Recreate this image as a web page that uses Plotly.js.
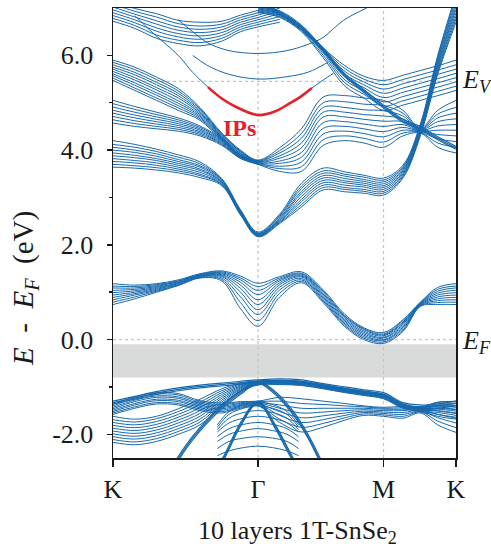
<!DOCTYPE html>
<html><head><meta charset="utf-8">
<script src="https://cdn.plot.ly/plotly-3.0.1.min.js"></script>
<style>body{margin:0;background:#fff}#plot{width:491px;height:551px}</style>
</head><body><div id="plot"></div>
<script>
// k-path positions (K, Γ, M, K) and common sampling grid
const kTicks = [0, 1, 1.866, 2.366];
const kLabels = ['K', 'Γ', 'M', 'K'];
const kFull = [0,0.15,0.3,0.45,0.6,0.75,0.88,1.0,1.15,1.3,1.45,1.6,1.73,1.866,2.0,2.12,2.24,2.366];

// lowest conduction bands (0 - 1.5 eV)
const cb1 = [
[0.74,0.86,1.00,1.14,1.30,1.24,0.65,0.28,0.90,1.20,0.78,0.27,0.00,-0.08,0.17,0.70,0.74,0.74],
[0.79,0.90,1.02,1.15,1.31,1.27,0.78,0.40,0.98,1.23,0.81,0.30,0.03,-0.05,0.20,0.71,0.78,0.79],
[0.84,0.94,1.04,1.16,1.32,1.30,0.90,0.53,1.05,1.26,0.84,0.33,0.06,-0.02,0.23,0.72,0.82,0.84],
[0.89,0.97,1.06,1.18,1.33,1.33,1.00,0.63,1.11,1.29,0.87,0.36,0.09,0.00,0.26,0.73,0.86,0.89],
[0.94,1.00,1.08,1.19,1.34,1.35,1.08,0.74,1.16,1.32,0.90,0.39,0.12,0.03,0.29,0.74,0.90,0.94],
[0.99,1.03,1.10,1.20,1.35,1.37,1.15,0.84,1.20,1.34,0.93,0.42,0.15,0.05,0.32,0.75,0.94,0.99],
[1.04,1.06,1.12,1.22,1.36,1.39,1.21,0.95,1.24,1.36,0.96,0.45,0.18,0.08,0.35,0.76,0.98,1.04],
[1.09,1.09,1.14,1.23,1.37,1.41,1.26,1.04,1.27,1.38,0.99,0.48,0.21,0.10,0.37,0.77,1.02,1.09],
[1.13,1.12,1.16,1.24,1.38,1.43,1.30,1.12,1.30,1.40,1.02,0.50,0.23,0.12,0.40,0.78,1.06,1.13],
[1.18,1.15,1.18,1.26,1.39,1.45,1.34,1.19,1.33,1.43,1.05,0.53,0.25,0.15,0.42,0.79,1.10,1.18]
];
// second conduction group, Γ valley at 2.2 eV
const cb2 = [
[3.64,3.62,3.58,3.52,3.42,3.25,2.63,2.17,2.45,2.80,3.16,3.12,3.09,3.05,3.41,4.30,5.60,6.70],
[3.70,3.67,3.63,3.56,3.46,3.27,2.64,2.18,2.47,2.85,3.21,3.17,3.13,3.09,3.44,4.33,5.64,6.77],
[3.76,3.73,3.68,3.60,3.49,3.28,2.65,2.19,2.49,2.91,3.26,3.21,3.17,3.13,3.47,4.36,5.69,6.83],
[3.82,3.78,3.73,3.64,3.53,3.30,2.66,2.20,2.51,2.96,3.31,3.26,3.22,3.17,3.50,4.38,5.73,6.90],
[3.88,3.84,3.78,3.68,3.57,3.32,2.68,2.21,2.53,3.02,3.36,3.31,3.26,3.21,3.53,4.41,5.78,6.97],
[3.94,3.89,3.82,3.72,3.60,3.33,2.69,2.22,2.55,3.08,3.41,3.35,3.30,3.25,3.56,4.44,5.82,7.03],
[4.00,3.95,3.87,3.76,3.64,3.35,2.70,2.23,2.57,3.13,3.46,3.40,3.34,3.29,3.59,4.47,5.87,7.10],
[4.06,4.00,3.92,3.80,3.67,3.37,2.71,2.24,2.60,3.19,3.51,3.45,3.38,3.33,3.62,4.50,5.91,7.17],
[4.12,4.06,3.97,3.85,3.71,3.38,2.72,2.25,2.62,3.24,3.56,3.49,3.43,3.37,3.65,4.52,5.96,7.23],
[4.20,4.12,4.02,3.90,3.75,3.40,2.74,2.27,2.65,3.30,3.62,3.54,3.47,3.41,3.68,4.55,6.00,7.30]
];
// group through Γ at 3.75 eV
const cb3 = [
[5.47,5.26,5.05,4.84,4.63,4.21,3.85,3.70,3.55,3.55,4.10,4.20,4.15,4.06,4.30,4.36,4.06,3.94],
[5.52,5.31,5.10,4.89,4.66,4.23,3.87,3.71,3.61,3.65,4.22,4.30,4.25,4.17,4.36,4.37,4.15,4.06],
[5.57,5.37,5.16,4.94,4.69,4.24,3.88,3.72,3.66,3.75,4.34,4.40,4.35,4.28,4.42,4.38,4.24,4.18],
[5.61,5.42,5.21,4.99,4.72,4.26,3.90,3.73,3.72,3.85,4.46,4.50,4.45,4.39,4.48,4.39,4.33,4.30],
[5.66,5.48,5.27,5.04,4.75,4.28,3.92,3.74,3.77,3.95,4.58,4.60,4.55,4.50,4.54,4.40,4.42,4.42],
[5.71,5.53,5.32,5.10,4.78,4.29,3.93,3.75,3.83,4.05,4.70,4.70,4.65,4.61,4.60,4.41,4.51,4.54],
[5.75,5.59,5.38,5.15,4.81,4.31,3.95,3.76,3.88,4.15,4.80,4.80,4.75,4.72,4.66,4.42,4.60,4.66],
[5.80,5.64,5.43,5.20,4.84,4.33,3.97,3.77,3.94,4.25,4.90,4.90,4.85,4.83,4.72,4.43,4.68,4.78],
[5.85,5.70,5.49,5.25,4.87,4.34,3.98,3.78,3.99,4.35,5.00,5.02,4.97,4.94,4.78,4.44,4.76,4.90],
[5.90,5.75,5.54,5.30,4.90,4.36,4.00,3.79,4.05,4.45,5.12,5.15,5.10,5.05,4.84,4.46,4.84,5.05]
];
const kLeft = [0,0.15,0.3,0.45,0.6,0.75,0.88,1.0];
const cb4L = [
[4.57,4.50,4.45,4.40,4.30,4.10,3.82,3.70],
[4.64,4.56,4.50,4.44,4.33,4.12,3.83,3.71],
[4.71,4.62,4.55,4.48,4.36,4.14,3.84,3.72],
[4.78,4.68,4.60,4.52,4.39,4.16,3.85,3.73],
[4.84,4.74,4.65,4.56,4.42,4.18,3.86,3.74],
[4.91,4.80,4.70,4.60,4.45,4.20,3.87,3.75],
[4.98,4.86,4.75,4.64,4.48,4.22,3.88,3.76],
[5.05,4.92,4.80,4.68,4.51,4.24,3.89,3.77]
];
const kTop = [0,0.15,0.3,0.45,0.6,0.75,0.88,1.0,1.15];
const topL = [
[6.72,6.57,6.36,6.25,6.20,6.30,6.50,6.60,6.70],
[6.78,6.63,6.43,6.32,6.27,6.36,6.55,6.65,6.76],
[6.84,6.69,6.51,6.39,6.34,6.42,6.60,6.70,6.82],
[6.90,6.75,6.58,6.46,6.41,6.48,6.65,6.75,6.88],
[6.96,6.81,6.66,6.53,6.48,6.54,6.70,6.80,6.94],
[7.02,6.87,6.73,6.60,6.55,6.60,6.75,6.85,7.00],
[7.08,6.93,6.81,6.67,6.62,6.66,6.80,6.90,7.06],
[7.14,6.99,6.88,6.74,6.70,6.72,6.85,6.95,7.12]
];
const kRight = [1.0,1.15,1.3,1.45,1.6,1.73,1.866,2.0,2.12,2.24,2.366];
const cb4R = [
[6.90,6.80,6.50,5.95,5.35,5.10,4.84,4.95,5.05,5.15,5.26],
[6.92,6.82,6.52,6.00,5.42,5.18,4.93,5.04,5.14,5.24,5.35],
[6.94,6.84,6.54,6.05,5.48,5.25,5.02,5.13,5.23,5.33,5.44],
[6.96,6.86,6.56,6.08,5.54,5.32,5.11,5.22,5.32,5.42,5.53],
[6.98,6.88,6.58,6.10,5.60,5.38,5.20,5.31,5.41,5.51,5.62],
[7.00,6.90,6.60,6.12,5.66,5.44,5.29,5.40,5.50,5.60,5.71],
[7.02,6.92,6.62,6.14,5.72,5.50,5.38,5.49,5.59,5.69,5.80],
[7.04,6.94,6.64,6.16,5.78,5.56,5.47,5.58,5.68,5.78,5.90]
];
const thickR = [
[7.10,6.86,6.55,6.09,5.55,5.22,4.89,4.59,4.44,4.22,4.02],
[7.13,6.89,6.58,6.12,5.58,5.25,4.92,4.62,4.47,4.25,4.05],
[7.16,6.92,6.61,6.15,5.61,5.28,4.95,4.65,4.50,4.28,4.08]
];
// single upper bands and image-potential state
const kU1 = [0.45,0.55,0.65,0.8,1.0,1.2,1.36,1.45,1.59,1.75];
const eU1 = [6.75,6.50,6.27,6.10,6.04,6.10,6.25,6.38,6.74,7.00];
const kU2 = [0.55,0.65,0.8,1.0,1.2,1.35,1.48];
const eU2 = [6.00,5.79,5.60,5.50,5.55,5.65,5.85];
const kIPa = [0.15,0.28,0.45,0.55,0.655];
const eIPa = [6.84,6.46,6.00,5.64,5.33];
const kIP = [0.655,0.75,0.85,1.0,1.12,1.22,1.3,1.372];
const eIP = [5.33,5.09,4.91,4.74,4.82,4.99,5.14,5.31];
const kIPb = [1.372,1.45,1.52];
const eIPb = [5.31,5.48,5.62];

// valence bands
const vt = [
[-1.30,-1.20,-1.10,-1.02,-0.96,-0.92,-0.88,-0.85,-0.83,-0.85,-0.93,-1.00,-1.06,-1.12,-1.33,-1.38,-1.36,-1.30],
[-1.33,-1.23,-1.13,-1.05,-0.99,-0.95,-0.91,-0.88,-0.86,-0.88,-0.96,-1.03,-1.09,-1.15,-1.36,-1.42,-1.40,-1.34],
[-1.36,-1.26,-1.16,-1.08,-1.02,-0.98,-0.94,-0.91,-0.89,-0.91,-0.99,-1.06,-1.12,-1.18,-1.39,-1.46,-1.45,-1.40]
];
const va = [
[-1.58,-1.45,-1.36,-1.38,-1.50,-1.55,-1.45,-1.40,-1.75,-1.95,-1.85,-1.70,-1.60,-1.62,-1.66,-1.55,-1.80,-1.96],
[-1.55,-1.42,-1.33,-1.35,-1.47,-1.52,-1.43,-1.39,-1.68,-1.85,-1.77,-1.65,-1.57,-1.59,-1.62,-1.53,-1.72,-1.86],
[-1.52,-1.38,-1.29,-1.31,-1.44,-1.49,-1.41,-1.37,-1.60,-1.75,-1.69,-1.60,-1.54,-1.56,-1.58,-1.51,-1.65,-1.76],
[-1.49,-1.35,-1.26,-1.28,-1.41,-1.46,-1.39,-1.36,-1.52,-1.65,-1.61,-1.55,-1.51,-1.53,-1.54,-1.49,-1.58,-1.66],
[-1.46,-1.31,-1.22,-1.24,-1.38,-1.43,-1.37,-1.34,-1.45,-1.55,-1.53,-1.50,-1.48,-1.50,-1.50,-1.47,-1.51,-1.56],
[-1.43,-1.28,-1.19,-1.21,-1.35,-1.40,-1.35,-1.33,-1.38,-1.45,-1.45,-1.45,-1.45,-1.47,-1.47,-1.45,-1.45,-1.48],
[-1.40,-1.24,-1.15,-1.17,-1.32,-1.37,-1.33,-1.31,-1.30,-1.35,-1.37,-1.40,-1.42,-1.45,-1.44,-1.43,-1.39,-1.39],
[-1.37,-1.21,-1.12,-1.14,-1.29,-1.34,-1.31,-1.30,-1.22,-1.25,-1.30,-1.35,-1.40,-1.43,-1.41,-1.41,-1.33,-1.30]
];
const vb = [
[-2.17,-2.22,-2.15,-2.00,-1.80,-1.40,-1.10,-0.96,-0.95,-0.97,-1.04,-1.12,-1.18,-1.25,-1.45,-1.52,-1.62,-1.68],
[-2.11,-2.16,-2.09,-1.94,-1.74,-1.36,-1.08,-0.95,-0.94,-0.96,-1.03,-1.11,-1.17,-1.24,-1.44,-1.51,-1.58,-1.64],
[-2.05,-2.10,-2.03,-1.88,-1.68,-1.32,-1.06,-0.94,-0.93,-0.95,-1.02,-1.10,-1.16,-1.23,-1.43,-1.50,-1.54,-1.60],
[-1.99,-2.04,-1.97,-1.82,-1.62,-1.28,-1.04,-0.93,-0.92,-0.94,-1.01,-1.09,-1.15,-1.22,-1.42,-1.49,-1.50,-1.55],
[-1.93,-1.98,-1.91,-1.76,-1.56,-1.24,-1.02,-0.92,-0.91,-0.93,-1.00,-1.08,-1.14,-1.21,-1.41,-1.48,-1.47,-1.51],
[-1.87,-1.92,-1.85,-1.70,-1.50,-1.20,-1.00,-0.91,-0.90,-0.92,-0.99,-1.07,-1.13,-1.20,-1.40,-1.47,-1.44,-1.47],
[-1.81,-1.86,-1.79,-1.64,-1.44,-1.16,-0.98,-0.90,-0.89,-0.91,-0.98,-1.06,-1.12,-1.19,-1.39,-1.46,-1.41,-1.43],
[-1.75,-1.80,-1.73,-1.58,-1.38,-1.12,-0.96,-0.89,-0.88,-0.90,-0.97,-1.05,-1.11,-1.18,-1.38,-1.45,-1.38,-1.39],
[-1.69,-1.74,-1.67,-1.52,-1.32,-1.08,-0.94,-0.88,-0.87,-0.89,-0.96,-1.04,-1.10,-1.17,-1.37,-1.44,-1.35,-1.35],
[-1.62,-1.68,-1.62,-1.46,-1.26,-1.04,-0.92,-0.87,-0.86,-0.88,-0.95,-1.03,-1.09,-1.16,-1.36,-1.43,-1.32,-1.31]
];
const kG = [0.72,0.8,0.9,1.0,1.1,1.2,1.28];
const vg = [
[-2.45,-2.35,-2.28,-2.25,-2.28,-2.35,-2.45],
[-2.30,-2.15,-2.08,-2.05,-2.08,-2.15,-2.30],
[-2.15,-2.00,-1.92,-1.88,-1.92,-2.00,-2.15],
[-2.05,-1.88,-1.79,-1.75,-1.79,-1.88,-2.05],
[-1.95,-1.76,-1.66,-1.62,-1.66,-1.76,-1.95],
[-1.90,-1.66,-1.54,-1.50,-1.54,-1.66,-1.90],
[-1.85,-1.58,-1.45,-1.40,-1.45,-1.58,-1.85],
[-1.80,-1.52,-1.37,-1.32,-1.37,-1.52,-1.80]
];
const kS1 = [0.39,0.55,0.74,0.9,1.0,1.1,1.24,1.345,1.46];
const vs1 = [
[-2.75,-2.04,-1.41,-1.05,-0.88,-1.05,-1.50,-2.00,-2.70],
[-2.80,-2.08,-1.45,-1.08,-0.90,-1.08,-1.54,-2.04,-2.75],
[-2.85,-2.12,-1.49,-1.11,-0.92,-1.11,-1.58,-2.08,-2.80]
];
const kS2 = [0.7,0.76,0.88,1.0,1.12,1.24,1.3];
const vs2 = [
[-2.75,-2.48,-1.75,-1.30,-1.80,-2.48,-2.75],
[-2.78,-2.52,-1.79,-1.32,-1.84,-2.52,-2.78],
[-2.81,-2.56,-1.83,-1.34,-1.88,-2.56,-2.81]
];

const EV = 5.45;
const gapLow = -0.8, gapHigh = -0.1;

const BLUE = '#1668ad';
const RED = '#e3212b';
const FONT = 'Liberation Serif';
const INK = '#1a1a1a';
const traces = [];
function addGroup(k, bands, color, width) {
  bands.forEach(b => traces.push({x: k, y: b, type: 'scatter', mode: 'lines',
    line: {color: color, width: width, shape: 'spline', smoothing: 1},
    hoverinfo: 'skip', showlegend: false}));
}
addGroup(kFull, cb1, BLUE, 1);
addGroup(kFull, cb2, BLUE, 1);
addGroup(kFull, cb3, BLUE, 1);
addGroup(kLeft, cb4L, BLUE, 1);
addGroup(kTop, topL, BLUE, 1);
addGroup(kRight, cb4R, BLUE, 1);
addGroup(kRight, thickR, BLUE, 1.2);
addGroup(kU1, [eU1], BLUE, 1);
addGroup(kU2, [eU2], BLUE, 1);
addGroup(kIPa, [eIPa], BLUE, 1);
addGroup(kIPb, [eIPb], BLUE, 1);
addGroup(kFull, vt, BLUE, 1.2);
addGroup(kFull, va, BLUE, 1);
addGroup(kFull, vb, BLUE, 1);
addGroup(kG, vg, BLUE, 1);
addGroup(kS1, vs1, BLUE, 1.2);
addGroup(kS2, vs2, BLUE, 1.2);
addGroup(kIP, [eIP], RED, 2.6);

const layout = {
  width: 491, height: 551,
  margin: {l: 113, r: 35, t: 8, b: 93},
  paper_bgcolor: '#fff', plot_bgcolor: '#fff',
  font: {family: FONT, color: INK, size: 25},
  xaxis: {range: [0, 2.366], tickmode: 'array', tickvals: kTicks, ticktext: kLabels,
    ticks: 'outside', ticklen: 7, tickwidth: 1.5, tickcolor: INK,
    showline: true, linewidth: 1.5, linecolor: INK, mirror: true,
    showgrid: false, zeroline: false, tickfont: {family: FONT, size: 26, color: INK}},
  yaxis: {range: [-2.5, 7.0], tickmode: 'array', tickvals: [-2, 0, 2, 4, 6],
    ticktext: ['-2.0', '0.0', '2.0', '4.0', '6.0'],
    ticks: 'outside', ticklen: 5, tickwidth: 1.5, tickcolor: INK,
    minor: {tickmode: 'array', tickvals: [-1, 1, 3, 5], ticks: 'outside', ticklen: 3, tickcolor: INK, tickwidth: 1.5},
    showline: true, linewidth: 1.5, linecolor: INK, mirror: true,
    showgrid: false, zeroline: false, tickfont: {family: FONT, size: 26, color: INK},
    ticklabelstandoff: 8},
  shapes: [
    {type: 'rect', xref: 'paper', x0: 0, x1: 1, yref: 'y', y0: gapLow, y1: gapHigh, fillcolor: '#d9dada', line: {width: 0}, layer: 'below'},
    {type: 'line', xref: 'x', x0: kTicks[1], x1: kTicks[1], yref: 'paper', y0: 0, y1: 1, line: {color: '#c4c4c4', width: 1.2, dash: 'dot'}, layer: 'below'},
    {type: 'line', xref: 'x', x0: kTicks[2], x1: kTicks[2], yref: 'paper', y0: 0, y1: 1, line: {color: '#c4c4c4', width: 1.2, dash: 'dot'}, layer: 'below'},
    {type: 'line', xref: 'paper', x0: 0, x1: 1, yref: 'y', y0: 0, y1: 0, line: {color: '#c4c4c4', width: 1.2, dash: 'dot'}, layer: 'below'},
    {type: 'line', xref: 'paper', x0: 0, x1: 1, yref: 'y', y0: EV, y1: EV, line: {color: '#c4c4c4', width: 1.2, dash: 'dot'}, layer: 'below'}
  ],
  annotations: [
    {text: '<b>IPs</b>', x: 0.876, y: 4.46, xref: 'x', yref: 'y', showarrow: false,
     font: {family: FONT, size: 24, color: RED}},
    {text: '<i>E</i><sub><i>V</i></sub>', xref: 'paper', x: 1, xshift: 4, xanchor: 'left', y: EV, yref: 'y', yanchor: 'middle', showarrow: false,
     font: {family: FONT, size: 26, color: INK}},
    {text: '<i>E</i><sub><i>F</i></sub>', xref: 'paper', x: 1, xshift: 4, xanchor: 'left', y: -0.05, yref: 'y', yanchor: 'middle', showarrow: false,
     font: {family: FONT, size: 26, color: INK}},
    {text: '10 layers 1T-SnSe<sub>2</sub>', xref: 'paper', yref: 'paper', x: 0.539, y: -0.164, xanchor: 'center', yanchor: 'middle', showarrow: false,
     font: {family: FONT, size: 26, color: INK}},
    {text: '<i>E</i>&nbsp; - &nbsp;<i>E</i><sub><i>F</i></sub>&nbsp;&nbsp;(eV)', xref: 'paper', yref: 'paper', x: -0.2566, y: 0.378, xanchor: 'center', yanchor: 'middle', textangle: -90, showarrow: false,
     font: {family: FONT, size: 29, color: INK}}
  ]
};
Plotly.newPlot('plot', traces, layout, {staticPlot: true, displayModeBar: false});
</script></body></html>
